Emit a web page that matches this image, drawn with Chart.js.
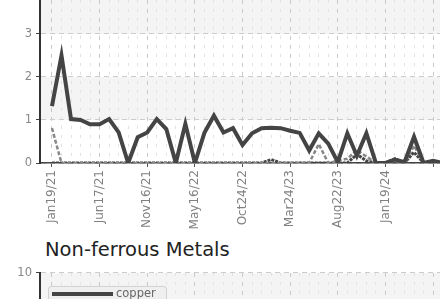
<!DOCTYPE html>
<html>
<head>
<meta charset="utf-8">
<script src="https://cdn.jsdelivr.net/npm/chart.js@4.4.1/dist/chart.umd.min.js"></script>
<style>
  html, body { margin: 0; padding: 0; width: 440px; height: 299px; overflow: hidden; background: #fff; }
  #ferrous { position: absolute; left: 0; top: -20px; }
  #nonferrous { position: absolute; left: 0; top: 262px; }
  h2 { position: absolute; left: 45px; top: 240px; margin: 0; font: normal 19.5px/1 'DejaVu Sans', sans-serif; color: #222; white-space: nowrap; }
</style>
</head>
<body>
<canvas id="ferrous" width="460" height="250"></canvas>
<h2>Non-ferrous Metals</h2>
<canvas id="nonferrous" width="460" height="250"></canvas>
<script>
// x tick labels, one every 5 points
const tickLabels = ['Jan19/21', 'Jun17/21', 'Nov16/21', 'May16/22', 'Oct24/22', 'Mar24/23', 'Aug22/23', 'Jan19/24'];
const labelEvery = 5;

// ferrous chart (upper)
const seriesA = [1.32, 2.5, 1.02, 1.0, 0.9, 0.9, 1.02, 0.71, 0, 0.6, 0.71, 1.02, 0.79, 0, 0.91, 0, 0.7, 1.1, 0.71, 0.81,
                 0.42, 0.69, 0.81, 0.82, 0.81, 0.75, 0.7, 0.29, 0.69, 0.45, 0.02, 0.69, 0.17, 0.69, 0, 0, 0.08, 0.02, 0.61, 0, 0.05, 0];
const seriesB = [0.81, 0, 0, 0, 0, 0, 0, 0, 0, 0, 0, 0, 0, 0, 0, 0, 0, 0, 0, 0,
                 0, 0, 0, 0, 0, 0, 0, 0, 0.44, 0, 0.05, 0.1, 0.3, 0.15, 0, 0, 0.05, 0, 0.4, 0, 0, 0];
const seriesC = [0, 0, 0, 0, 0, 0, 0, 0, 0, 0, 0, 0, 0, 0, 0, 0, 0, 0, 0, 0,
                 0, 0, 0, 0.08, 0, 0, 0, 0, 0, 0, 0, 0, 0.2, 0.05, 0, 0, 0.1, 0, 0.25, 0, 0, 0];
const ferrousTicks = [0, 1, 2, 3, 4];

// non-ferrous chart (lower, only its top is in view)
const copper = [4.1, 4.6, 5.0, 4.8, 5.3, 5.6, 5.2, 4.9, 5.1, 5.4, 5.8, 6.0, 5.7, 5.5, 5.2, 4.9, 4.7, 5.0, 5.3, 5.1,
                4.8, 4.6, 4.9, 5.2, 5.5, 5.3, 5.0, 4.8, 5.1, 5.4, 5.6, 5.3, 5.0, 5.2, 5.5, 5.7, 5.4, 5.1, 5.3, 5.6, 5.4, 5.2];
const nonFerrousTicks = [0, 2, 4, 6, 8, 10];

const pts = arr => arr.map((v, i) => ({ x: i, y: v }));
const isMajor = ctx => ctx.tick && ctx.tick.value % labelEvery === 0;

// alternating grey bands between y ticks, counted from the top
const bands = {
  id: 'bands',
  beforeDraw(chart) {
    const { ctx, chartArea: a, scales: { y } } = chart;
    const step = y.options.ticks.stepSize;
    ctx.save();
    ctx.fillStyle = '#f4f4f4';
    let k = 0;
    for (let v = y.max; v > y.min; v -= step, k++) {
      if (k % 2) continue;
      const top = y.getPixelForValue(v), bot = y.getPixelForValue(v - step);
      ctx.fillRect(a.left, top, a.right - a.left, bot - top);
    }
    ctx.restore();
  }
};

// legend box drawn inside the plot
const boxLegend = {
  id: 'boxLegend',
  afterDraw(chart) {
    const { ctx, chartArea: a } = chart;
    const x = a.left + 8, y = a.top + 13;
    ctx.save();
    ctx.fillStyle = '#efefef';
    ctx.strokeStyle = '#d0d0d0';
    ctx.lineWidth = 1;
    ctx.beginPath();
    ctx.roundRect(x + 0.5, y + 0.5, 118, 20, 3);
    ctx.fill();
    ctx.stroke();
    chart.data.datasets.forEach((ds, i) => {
      const ly = y + 8 + i * 18;
      ctx.strokeStyle = ds.borderColor;
      ctx.lineWidth = 4;
      ctx.beginPath();
      ctx.moveTo(x + 4, ly);
      ctx.lineTo(x + 65, ly);
      ctx.stroke();
      ctx.fillStyle = '#666';
      ctx.font = "11.5px 'DejaVu Sans', sans-serif";
      ctx.textBaseline = 'middle';
      ctx.fillText(ds.label, x + 68, ly);
    });
    ctx.restore();
  }
};

function xAxis() {
  return {
    type: 'linear',
    min: -1.256,
    max: 41.64,
    afterBuildTicks: s => { s.ticks = seriesA.map((_, i) => ({ value: i })); },
    afterFit: s => { s.height = 67; },
    ticks: {
      autoSkip: false,
      minRotation: 90,
      maxRotation: 90,
      padding: 3,
      color: '#808080',
      font: { family: 'DejaVu Sans', size: 12 },
      callback: v => (v % labelEvery === 0 && tickLabels[v / labelEvery]) || ''
    },
    grid: {
      color: ctx => isMajor(ctx) ? '#c8c8c8' : '#e2e2e2',
      tickColor: ctx => isMajor(ctx) ? '#555' : 'rgba(0,0,0,0)',
      tickLength: 4
    },
    border: { color: '#444', width: 1.5, dash: ctx => isMajor(ctx) ? [4, 5] : [3, 6] }
  };
}

function yAxis(ticks) {
  return {
    min: ticks[0],
    max: ticks[ticks.length - 1],
    afterFit: s => { s.width = 40; },
    ticks: {
      stepSize: ticks[1] - ticks[0],
      padding: 4,
      color: '#888',
      font: { family: 'DejaVu Sans', size: 11.5 }
    },
    grid: { color: '#cccccc', tickColor: '#444', tickLength: 4 },
    border: { color: '#333', width: 2, dash: [5, 4] }
  };
}

const common = {
  responsive: false,
  animation: false,
  layout: { padding: { top: 8, left: 0, right: 0, bottom: 0 } },
  elements: { point: { radius: 0 }, line: { tension: 0 } },
  plugins: { legend: { display: false }, tooltip: { enabled: false } }
};

new Chart(document.getElementById('ferrous'), {
  type: 'line',
  data: {
    datasets: [
      { label: 'iron ore', data: pts(seriesA), borderColor: '#444', borderWidth: 4 },
      { label: 'steel', data: pts(seriesB), borderColor: '#888', borderWidth: 2.5, borderDash: [4, 2] },
      { label: 'scrap', data: pts(seriesC), borderColor: '#444', borderWidth: 3, borderDash: [3, 1] }
    ]
  },
  options: { ...common, scales: { x: xAxis(), y: yAxis(ferrousTicks) } },
  plugins: [bands]
});

new Chart(document.getElementById('nonferrous'), {
  type: 'line',
  data: {
    datasets: [
      { label: 'copper', data: pts(copper), borderColor: '#444', borderWidth: 4 }
    ]
  },
  options: { ...common, scales: { x: xAxis(), y: yAxis(nonFerrousTicks) } },
  plugins: [bands, boxLegend]
});
</script>
</body>
</html>
